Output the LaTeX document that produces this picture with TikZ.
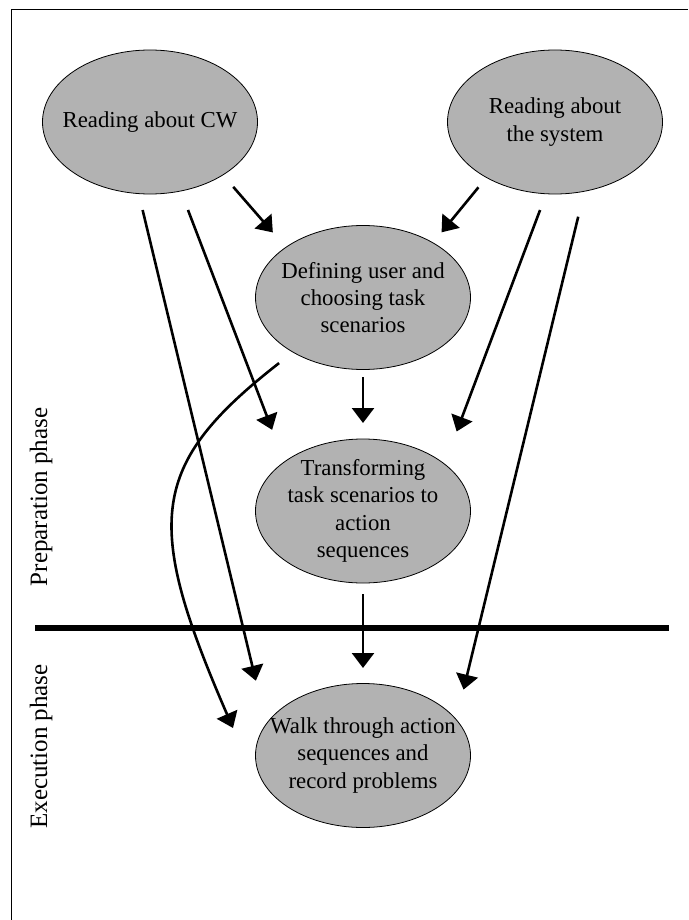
\documentclass[tikz,border=0pt]{standalone}
\usepackage{fontspec}
\setmainfont{Liberation Serif}
\usepackage{tikz}
\usetikzlibrary{arrows.meta,positioning,shapes.geometric}
\tikzset{
  stage/.style={ellipse,draw=black,fill=black!30,line width=0.8pt,minimum width=215pt,minimum height=144pt,inner xsep=-20pt,inner ysep=-10pt,outer sep=0pt,align=center,font=\fontsize{22.8}{27.3}\selectfont},
  arrow/.style={-{Triangle[length=15pt,width=22pt]},line width=2.6pt,draw=black},
  phase/.style={rotate=90,font=\fontsize{25}{30}\selectfont},
  divider/.style={line width=6pt},
  frameline/.style={line width=1pt}
}
\begin{document}
\begin{tikzpicture}[x=1pt,y=-1pt]
    \useasboundingbox (0,0) rectangle (688,920);
    \draw[frameline] (11,920) -- (11,10) -- (688,10);
    \node[stage] (cw) at (150,122) {Reading about CW};
    \node[stage,right=190pt of cw] (system) {Reading about\\the system};
    \node[stage] (users) at (363,297.5) {Defining user and\\choosing task\\scenarios};
    \node[stage,below=69.5pt of users] (transform) {Transforming\\task scenarios to\\action\\sequences};
    \node[stage,below=100.5pt of transform] (walk) {Walk through action\\sequences and\\record problems};
    \coordinate (walkin) at ([xshift=-22.5pt,yshift=27.5pt]walk.west);
    \node[phase] (prep) at (41,497) {Preparation phase};
    \node[phase] (exec) at (41,746.5) {Execution phase};
    \draw[divider] (35,628) -- (669,628);
    \draw[arrow,shorten <=15.8pt,shorten >=19.8pt] (cw.-36.1) -- (users.147.7);
    \draw[arrow,shorten <=12.7pt,shorten >=13.6pt] (system.-141.3) -- (users.38.4);
    \draw[arrow,shorten <=20.3pt,shorten >=34.3pt] (cw.-66) -- (transform.148.1);
    \draw[arrow,shorten <=16.9pt,shorten >=44.6pt] (cw.-99.5) -- (walk.162.9);
    \draw[arrow,shorten <=17.4pt,shorten >=34.7pt] (system.-97.9) -- (transform.30.5);
    \draw[arrow,shorten <=26.2pt,shorten >=31pt] (system.-67.9) -- (walk.21.4);
    \draw[arrow,shorten <=7.5pt,shorten >=16pt] (users) -- (transform);
    \draw[arrow,shorten <=11pt,shorten >=15.5pt] (transform) -- (walk);
    \draw[arrow,shorten <=17.7pt] (users.-142.1) .. controls +(-143.9,112.5) and +(-89.7,-206.4) .. (walkin);
\end{tikzpicture}
\end{document}
